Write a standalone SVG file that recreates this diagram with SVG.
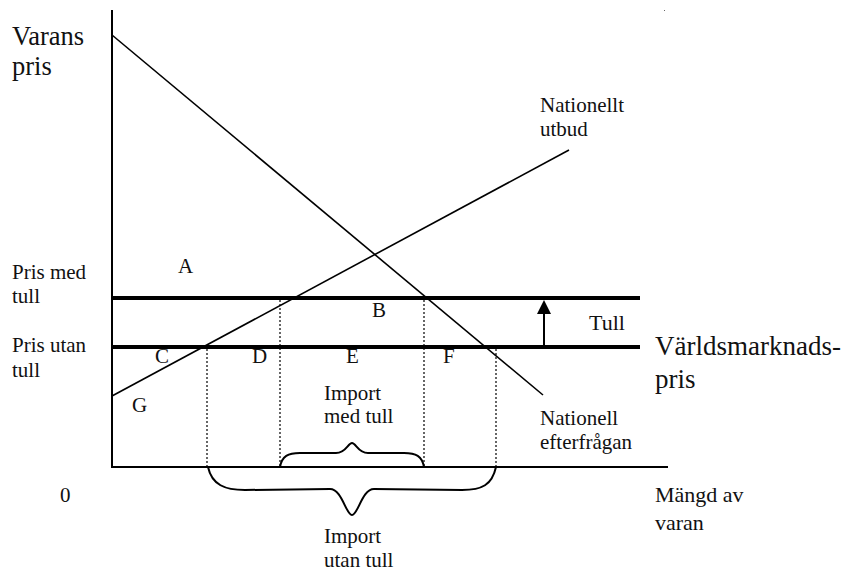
<svg xmlns="http://www.w3.org/2000/svg" width="843" height="571" viewBox="0 0 843 571">
<style>
text{font-family:"Liberation Serif","Times New Roman",serif;fill:#111}
.lg{font-size:26.5px}
.md{font-size:21px}
.ax{stroke:#000;stroke-width:2;fill:none}
.curve{stroke:#000;stroke-width:1.6;fill:none}
.price{stroke:#000;stroke-width:4;fill:none}
.dot{stroke:#000;stroke-width:1.2;stroke-dasharray:2 2;fill:none}
.brace{stroke:#000;stroke-width:2;fill:none}
</style>
<rect width="843" height="571" fill="#fff"/>
<g id="connectors">
  <line class="ax" x1="112" y1="10" x2="112" y2="468"/>
  <line class="ax" x1="111" y1="467" x2="668" y2="467"/>
  <line class="curve" x1="112" y1="35" x2="543" y2="395"/>
  <line class="curve" x1="112" y1="396" x2="569" y2="150"/>
  <line class="price" x1="112" y1="298" x2="640" y2="298"/>
  <line class="price" x1="112" y1="347" x2="640" y2="347"/>
  <line class="dot" x1="207" y1="349" x2="207" y2="466"/>
  <line class="dot" x1="280" y1="300" x2="280" y2="466"/>
  <line class="dot" x1="424" y1="300" x2="424" y2="466"/>
  <line class="dot" x1="496" y1="349" x2="496" y2="466"/>
  <line stroke="#000" stroke-width="2" x1="544" y1="346" x2="544" y2="312"/>
  <polygon points="544,300 537,314 551,314" fill="#000"/>
  <path class="brace" d="M280,467 C282,456 288,453 300,453 L336,453 C346,453 348,443 352,443 C356,443 358,453 368,453 L404,453 C416,453 422,456 424,467"/>
  <path class="brace" d="M208,467 C212,485 225,490 245,490 L330,489 C342,489 346,515 352,515 C358,515 362,489 374,489 L462,490 C482,490 492,485 496,467"/>
  <rect x="664" y="10" width="1" height="1" fill="#666"/>
</g>
<g id="axis-labels">
  <text class="lg" x="12" y="45">Varans</text>
  <text class="lg" x="12" y="75">pris</text>
  <text class="md" x="60" y="502">0</text>
  <text class="md" x="655" y="502" style="font-size:22px">Mängd av</text>
  <text class="md" x="655" y="530" style="font-size:22px">varan</text>
</g>
<g id="supply-label">
  <text class="md" x="540" y="112">Nationellt</text>
  <text class="md" x="540" y="136">utbud</text>
</g>
<g id="demand-label">
  <text class="md" x="540" y="425">Nationell</text>
  <text class="md" x="540" y="449">efterfrågan</text>
</g>
<g id="price-labels">
  <text class="md" x="12" y="279">Pris med</text>
  <text class="md" x="12" y="303">tull</text>
  <text class="md" x="12" y="352">Pris utan</text>
  <text class="md" x="12" y="377">tull</text>
  <text class="lg" x="655" y="355" style="font-size:27px">Världsmarknads-</text>
  <text class="lg" x="655" y="388" style="font-size:27px">pris</text>
  <text class="md" x="589" y="330" style="font-size:22px">Tull</text>
</g>
<g id="area-labels">
  <text class="md" x="178" y="273">A</text>
  <text class="md" x="372" y="317">B</text>
  <text class="md" x="155" y="363">C</text>
  <text class="md" x="252" y="363">D</text>
  <text class="md" x="346" y="363">E</text>
  <text class="md" x="443" y="363">F</text>
  <text class="md" x="132" y="412">G</text>
</g>
<g id="import-labels">
  <text class="md" x="324" y="400">Import</text>
  <text class="md" x="324" y="423">med tull</text>
  <text class="md" x="324" y="543">Import</text>
  <text class="md" x="324" y="567">utan tull</text>
</g>
</svg>
